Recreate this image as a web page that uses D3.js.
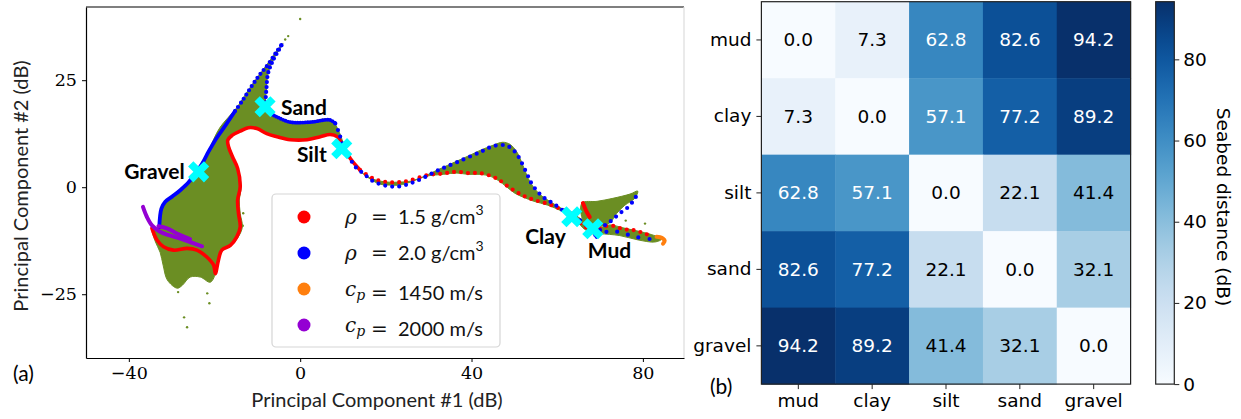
<!DOCTYPE html>
<html>
<head>
<meta charset="utf-8">
<script src="https://cdn.jsdelivr.net/npm/d3@7"></script>
<style>
body{margin:0;background:#fff;}
svg{display:block;}
</style>
</head>
<body>
<svg id="fig" width="1241" height="419"></svg>
<script>
'use strict'
// ---------- panel (a) : principal components (dB) ----------
let pcTicksX = [-40, 0, 40, 80];
let pcTicksY = [-25, 0, 25];

// outline of the green cloud of simulated seabeds
let cloudMain = [[10.3,9.1],[8.6,14.0],[7.0,15.9],[2.3,15.4],[-2.3,15.4],[-5.4,16.6],[-7.9,18.9],[-7.9,22.7],[-7.5,26.6],[-6.1,30.1],[-4.0,33.6],
  [-5.4,32.0],[-7.0,29.7],[-9.0,27.0],[-11.0,24.3],[-12.9,21.5],[-14.7,18.7],[-16.8,16.3],[-18.7,14.0],[-20.2,11.2],[-21.5,8.2],[-23.3,4.7],[-26.1,1.2],[-29.2,-1.4],[-31.5,-3.5],[-32.4,-5.4],[-33.1,-9.6],[-34.5,-9.8],
  [-33.9,-12.5],[-32.7,-15.2],[-32.0,-18.2],[-31.0,-21.7],[-28.7,-23.6],[-27.5,-22.9],[-25.7,-21.0],[-23.3,-21.0],[-21.0,-22.2],[-19.8,-20.3],
  [-19.1,-17.1],[-18.2,-14.7],[-16.1,-13.6],[-14.5,-11.7],[-13.5,-9.3],[-14.0,-6.1],[-14.2,-3.0],[-13.8,0.0],[-14.5,4.4],[-15.6,7.0],[-16.6,9.3],[-16.8,11.0],[-15.9,12.1],[-14.0,13.1],[-12.1,13.8],[-10.0,13.8],[-7.7,12.6],[-5.4,11.7],[-2.3,11.2],[1.6,11.2],[4.7,11.7],[7.0,12.4],[8.6,11.7],[10.0,9.3]];
let cloudMid = [[10.3,8.6],[12.1,5.8],[13.3,4.4],[14.9,3.0],[16.8,1.6],[18.7,0.7],[21.0,0.5],[23.3,0.5],[25.7,1.2],[28.0,2.1],[32.0,4.0],[36.6,6.1],[39.7,7.5],[42.0,8.6],[45.0,9.8],[47.3,10.5],[49.0,10.0],[50.6,8.2],[52.0,5.1],[53.2,2.1],[54.6,-0.2],[56.2,-1.9],[57.8,-3.0],[59.7,-4.2],[61.8,-5.4],[64.1,-6.5],[66.5,-8.0],[68.5,-9.3],
  [70.0,-9.4],[72.3,-8.8],[75.4,-9.5],[78.6,-10.2],[82.1,-11.1],[84.4,-12.1],[82.8,-12.8],[78.8,-12.3],[74.6,-11.3],[70.0,-10.9],
  [68.5,-11.0],[66.0,-9.5],[64.1,-7.2],[61.1,-5.6],[57.8,-4.2],[54.6,-3.3],[52.0,-2.3],[50.1,-1.4],[48.3,0.0],[46.2,1.6],[44.3,2.6],[42.0,3.0],[39.2,3.0],[36.6,3.3],[33.4,3.0],[29.6,2.6],[25.7,1.4],[23.3,1.2],[20.3,1.2],[17.0,1.9],[14.0,3.7],[11.7,6.5],[10.0,9.1]];
let cloudWedge = [[65.8,-3.7],[69.3,-3.3],[73.0,-2.6],[77.0,-1.6],[78.8,-0.9],[78.1,-2.6],[75.8,-4.2],[73.9,-6.1],[72.3,-8.3],[69.5,-9.2],[66.9,-8.8],[65.8,-7.2]];
let cloudStray = [[0,39.3],[-2.8,35.3],[-3.5,34.5],[-28.5,-24.5],[-21.2,-27.1],[-21.7,-24.8],[-27.1,-30.4],[-26.4,-32.7],[-13.3,-6.1],[-13.4,-9.0],[80.5,-8.5],[76.0,-7.8]];

// rho = 1.5 g/cm3 (red)
let rhoLowLoop = [[-34.6,-9.6],[-33.4,-12.4],[-31.9,-13.9],[-29.6,-14.7],[-26.4,-14.3],[-24.1,-14.7],[-21.8,-16.3],[-20.2,-18.2],[-19.8,-20.2],[-19.1,-17.1],[-18.3,-14.7],[-16.3,-13.6],[-14.8,-11.6],[-14.0,-9.3],[-14.4,-6.1],[-14.6,-3.0],[-14.0,0.1],[-14.6,4.4],[-15.8,7.1],[-16.7,9.4],[-16.9,11.0],[-15.9,12.1],[-14.0,13.1],[-12.1,13.9],[-10.1,13.7],[-7.8,12.5],[-5.4,11.8],[-2.3,11.1],[1.6,11.1],[4.7,11.8],[7.0,12.3],[8.6,11.8],[10.1,9.4],[11.7,6.7],[14.0,4.0]];
let rhoLowMid = [[14.0,4.0],[17.1,2.0],[20.2,1.2],[23.3,1.2],[25.7,1.6],[29.6,2.8],[33.4,3.2],[36.5,3.6],[39.3,3.3],[42.0,3.3],[45.1,2.4],[46.6,1.6],[48.6,0.1],[50.5,-1.1],[52.1,-2.0],[54.4,-2.9],[57.5,-3.8],[60.6,-5.0],[63.4,-6.3],[65.7,-8.6],[67.6,-9.8],[70.0,-9.6],[72.3,-8.9],[75.4,-9.8],[77.7,-10.0],[80.1,-10.7],[82.4,-11.6]];
let rhoLowWedge = [[66.0,-3.7],[66.5,-4.9],[66.9,-5.8],[67.6,-7.0]];

// rho = 2.0 g/cm3 (blue)
let rhoHighLeft = [[-32.9,-9.4],[-32.4,-5.0],[-31.5,-3.4],[-29.9,-2.2],[-28.0,-0.7],[-26.0,1.2],[-24.5,3.2],[-22.9,5.5],[-21.4,8.3],[-19.5,11.5],[-17.2,14.8],[-15.2,17.8]];
let rhoHighOuter = [[-15.2,17.8],[-13.3,20.5],[-11.4,23.5],[-9.5,26.2],[-7.4,28.8],[-5.6,31.5],[-4.1,33.6],[-6.3,29.7],[-7.5,26.6],[-7.9,22.7],[-8.2,18.7]];
let rhoHighInner = [[-8.2,18.7],[-7.0,17.3],[-5.4,16.4],[-2.3,15.2],[2.3,15.2],[7.0,15.7],[8.2,14.9]];
let rhoHighMid = [[8.2,14.9],[9.1,12.6],[9.8,10.3],[10.7,7.9],[12.1,5.9],[13.2,4.4],[14.8,3.2],[16.7,1.6],[18.7,0.7],[21.0,0.2],[23.3,0.2],[25.7,0.9],[28.0,1.8],[31.9,3.8],[36.5,5.8],[42.0,8.2],[45.1,9.6],[47.8,9.8],[49.4,9.0],[50.9,7.2],[52.9,3.2],[54.0,0.9],[55.5,-1.1],[57.1,-2.6],[59.1,-3.8],[61.0,-5.2],[63.4,-6.8],[65.3,-7.7],[67.6,-9.6],[69.2,-11.6]];
let rhoHighRight = [[69.2,-11.6],[72.3,-10.2],[75.8,-10.9],[78.8,-11.7],[81.6,-12.1]];
let rhoHighWedge = [[70.0,-10.0],[71.1,-8.9],[72.8,-7.7],[74.6,-6.1],[76.5,-4.7],[77.9,-3.0],[78.6,-1.9],[79.3,-1.2]];

// c_p curves
let cpLow = [[83.2,-11.6],[84.0,-11.7],[84.7,-12.0],[85.1,-12.5],[84.7,-13.2]];
let cpHigh = [[-36.7,-4.6],[-35.8,-6.9],[-34.6,-8.9],[-32.7,-10.4],[-30.7,-11.2],[-28.0,-12.0],[-25.7,-12.8],[-22.9,-13.8]];
let cpHighBranch = [[-33.1,-9.1],[-31.1,-9.6],[-28.8,-10.8],[-25.7,-12.1]];

// reference seabeds
let seabedNames = ['Mud', 'Clay', 'Silt', 'Sand', 'Gravel'];
let seabedPC1 = [68.3, 63.4, 9.7, -8.2, -23.7];
let seabedPC2 = [-9.7, -6.9, 9.0, 18.8, 3.6];

let legendSymbol = ['ρ', 'ρ', 'c', 'c'];
let legendSub = ['', '', 'p', 'p'];
let legendValue = ['1.5 g/cm', '2.0 g/cm', '1450 m/s', '2000 m/s'];
let legendSup = ['3', '3', '', ''];
let legendColor = ['#ff0000', '#0000ff', '#ff7f0e', '#9400d3'];

// ---------- panel (b) : seabed distance matrix (dB) ----------
let seabeds = ['mud', 'clay', 'silt', 'sand', 'gravel'];
let distMud    = [0.0, 7.3, 62.8, 82.6, 94.2];
let distClay   = [7.3, 0.0, 57.1, 77.2, 89.2];
let distSilt   = [62.8, 57.1, 0.0, 22.1, 41.4];
let distSand   = [82.6, 77.2, 22.1, 0.0, 32.1];
let distGravel = [94.2, 89.2, 41.4, 32.1, 0.0];
let cbTicks = [0, 20, 40, 60, 80];

let svg = d3.select('#fig');
let minus = function(d){ return d < 0 ? '\u2212' + Math.abs(d) : '' + d; };

// ================= panel (a) =================
let x = d3.scaleLinear().domain([-50, 89.6]).range([86, 684]);
let y = d3.scaleLinear().domain([-39.9, 42.1]).range([358, 7]);

svg.append('clipPath').attr('id', 'clipA')
  .append('rect').attr('x', 86).attr('y', 7).attr('width', 598).attr('height', 351);
let plot = svg.append('g').attr('clip-path', 'url(#clipA)');

let line = d3.line().x(function(d){ return x(d[0]); }).y(function(d){ return y(d[1]); });
let smooth = d3.line().x(function(d){ return x(d[0]); }).y(function(d){ return y(d[1]); }).curve(d3.curveCatmullRom);

[cloudMain, cloudMid, cloudWedge].forEach(function(poly){
  plot.append('path')
    .attr('d', line.curve(d3.curveCatmullRomClosed)(poly))
    .attr('fill', '#6b8e23')
    .attr('stroke', '#6b8e23')
    .attr('stroke-width', 1);
});
plot.selectAll('.stray')
  .data(cloudStray)
  .enter().append('circle')
  .attr('class', 'stray')
  .attr('cx', function(d){ return x(d[0]); })
  .attr('cy', function(d){ return y(d[1]); })
  .attr('r', 1.2)
  .attr('fill', '#6b8e23');

function curve(pts, color, width, gap){
  plot.append('path')
    .datum(pts)
    .attr('d', smooth)
    .attr('fill', 'none')
    .attr('stroke', color)
    .attr('stroke-width', width)
    .attr('stroke-linecap', 'round')
    .attr('stroke-linejoin', 'round')
    .attr('stroke-dasharray', gap ? '0,' + gap : null);
}
curve(rhoLowLoop, '#ff0000', 3.6, 0);
curve(rhoLowMid, '#ff0000', 4.2, 7);
curve(rhoLowWedge, '#ff0000', 4, 0);
curve(rhoHighLeft, '#0000ff', 3.8, 0);
curve(rhoHighOuter, '#0000ff', 4.2, 5);
curve(rhoHighInner, '#0000ff', 3.8, 2.5);
curve(rhoHighMid, '#0000ff', 4.2, 7);
curve(rhoHighRight, '#0000ff', 4.2, 11);
curve(rhoHighWedge, '#0000ff', 4.2, 7);
curve(cpLow, '#ff7f0e', 4, 0);
curve(cpHigh, '#9400d3', 4, 0);
curve(cpHighBranch, '#9400d3', 4, 0);

// reference seabed markers
let cross = d3.symbol().type(d3.symbolCross).size(280);
plot.selectAll('.seabed')
  .data(seabedNames)
  .enter().append('path')
  .attr('class', 'seabed')
  .attr('d', cross)
  .attr('fill', '#00ffff')
  .attr('transform', function(d, i){ return 'translate(' + x(seabedPC1[i]) + ',' + y(seabedPC2[i]) + ') rotate(45)'; });

let labelOffset = {Mud: [-5, 22, 'start'], Clay: [-6, 20, 'end'], Silt: [-15, 6, 'end'], Sand: [16, 1, 'start'], Gravel: [-14, 0, 'end']};
svg.selectAll('.seabed-label')
  .data(seabedNames)
  .enter().append('text')
  .attr('class', 'seabed-label')
  .attr('x', function(d, i){ return x(seabedPC1[i]) + labelOffset[d][0]; })
  .attr('y', function(d, i){ return y(seabedPC2[i]) + labelOffset[d][1] + 7.5; })
  .attr('text-anchor', function(d){ return labelOffset[d][2]; })
  .attr('font-family', 'Lato')
  .attr('font-weight', 'bold')
  .attr('font-size', '21px')
  .attr('fill', '#000')
  .text(function(d){ return d; });

// spines
svg.append('line').attr('x1', 86).attr('x2', 684).attr('y1', 7).attr('y2', 7).attr('stroke', '#000').attr('stroke-width', 1.2);
svg.append('line').attr('x1', 684).attr('x2', 684).attr('y1', 7).attr('y2', 358).attr('stroke', '#dcdcdc').attr('stroke-width', 1.2);

let axA = svg.append('g').attr('transform', 'translate(0,358)')
  .call(d3.axisBottom(x).tickValues(pcTicksX).tickSize(4).tickSizeOuter(0).tickPadding(5).tickFormat(minus));
let ayA = svg.append('g').attr('transform', 'translate(86,0)')
  .call(d3.axisLeft(y).tickValues(pcTicksY).tickSize(4).tickSizeOuter(0).tickPadding(5).tickFormat(minus));
[axA, ayA].forEach(function(a){
  a.select('.domain').attr('stroke', '#000').attr('stroke-width', 1.2);
  a.selectAll('.tick line').attr('stroke', '#000').attr('stroke-width', 1);
  a.selectAll('.tick text').attr('font-family', 'DejaVu Serif').attr('font-size', '17.5px').attr('fill', '#000');
});

svg.append('text')
  .attr('x', 377).attr('y', 407)
  .attr('text-anchor', 'middle')
  .attr('font-family', 'Lato').attr('font-size', '20px').attr('fill', '#222')
  .text('Principal Component #1 (dB)');
svg.append('text')
  .attr('transform', 'translate(28,186) rotate(-90)')
  .attr('text-anchor', 'middle')
  .attr('font-family', 'Lato').attr('font-size', '20px').attr('fill', '#222')
  .text('Principal Component #2 (dB)');
svg.append('text')
  .attr('x', 13).attr('y', 381)
  .attr('font-family', 'Lato').attr('font-size', '21px').attr('fill', '#000')
  .text('(a)');

// legend
let legend = svg.append('g');
legend.append('rect')
  .attr('x', 272).attr('y', 194).attr('width', 228).attr('height', 153).attr('rx', 4)
  .attr('fill', '#fff').attr('fill-opacity', 0.85)
  .attr('stroke', '#d5d5d5').attr('stroke-width', 1.2);
legendColor.forEach(function(c, i){
  let ly = 217 + i * 36;
  legend.append('circle').attr('cx', 304).attr('cy', ly).attr('r', 6.5).attr('fill', c);
  let t = legend.append('text').attr('y', ly + 7).attr('fill', '#111').attr('font-size', '20px');
  t.append('tspan').attr('x', 345).attr('font-family', 'DejaVu Serif').attr('font-style', 'italic').text(legendSymbol[i]);
  if (legendSub[i]) {
    t.append('tspan').attr('dy', 4).attr('font-family', 'DejaVu Serif').attr('font-style', 'italic').attr('font-size', '14px').text(legendSub[i]);
    t.append('tspan').attr('dy', -4).text('');
  }
  t.append('tspan').attr('x', 371).attr('font-family', 'DejaVu Serif').text('=');
  t.append('tspan').attr('x', 398).attr('font-family', 'Lato').text(legendValue[i]);
  if (legendSup[i]) {
    t.append('tspan').attr('dy', -9).attr('font-family', 'Lato').attr('font-size', '14px').text(legendSup[i]);
  }
});

// ================= panel (b) =================
let matrix = [distMud, distClay, distSilt, distSand, distGravel];
let cells = [];
matrix.forEach(function(row, i){
  row.forEach(function(v, j){ cells.push({row: seabeds[i], col: seabeds[j], value: v}); });
});
let vmax = d3.max(cells, function(d){ return d.value; });
let color = d3.scaleSequential(d3.interpolateBlues).domain([0, vmax]);
let hx = d3.scaleBand().domain(seabeds).range([761.4, 1130.6]);
let hy = d3.scaleBand().domain(seabeds).range([1.7, 384.1]);

let heat = svg.append('g');
heat.selectAll('.cell')
  .data(cells)
  .enter().append('rect')
  .attr('class', 'cell')
  .attr('x', function(d){ return hx(d.col); })
  .attr('y', function(d){ return hy(d.row); })
  .attr('width', hx.bandwidth() + 0.5)
  .attr('height', hy.bandwidth() + 0.5)
  .attr('fill', function(d){ return color(d.value); });
heat.selectAll('.val')
  .data(cells)
  .enter().append('text')
  .attr('class', 'val')
  .attr('x', function(d){ return hx(d.col) + hx.bandwidth() / 2; })
  .attr('y', function(d){ return hy(d.row) + hy.bandwidth() / 2 + 6.5; })
  .attr('text-anchor', 'middle')
  .attr('font-family', 'DejaVu Sans').attr('font-size', '18.5px')
  .attr('fill', function(d){ return d.value > vmax / 2 ? '#fff' : '#000'; })
  .text(function(d){ return d.value.toFixed(1); });
heat.append('rect')
  .attr('x', 761.4).attr('y', 1.7).attr('width', 369.2).attr('height', 382.4)
  .attr('fill', 'none').attr('stroke', '#222').attr('stroke-width', 1.2);

let axB = svg.append('g').attr('transform', 'translate(0,384.1)')
  .call(d3.axisBottom(hx).tickSize(5).tickPadding(5));
let ayB = svg.append('g').attr('transform', 'translate(761.4,0)')
  .call(d3.axisLeft(hy).tickSize(5).tickPadding(5));
[axB, ayB].forEach(function(a){
  a.select('.domain').remove();
  a.selectAll('.tick line').attr('stroke', '#222');
  a.selectAll('.tick text').attr('font-family', 'DejaVu Sans').attr('font-size', '18.5px').attr('fill', '#000');
});
svg.append('text')
  .attr('x', 710).attr('y', 394)
  .attr('font-family', 'Lato').attr('font-size', '21px').attr('fill', '#000')
  .text('(b)');

// colorbar
let cbY = d3.scaleLinear().domain([0, vmax]).range([384.1, 1.7]);
let grad = svg.append('defs').append('linearGradient')
  .attr('id', 'cbGrad').attr('x1', 0).attr('x2', 0).attr('y1', 1).attr('y2', 0);
d3.range(0, 1.0001, 0.05).forEach(function(t){
  grad.append('stop').attr('offset', t).attr('stop-color', d3.interpolateBlues(t));
});
svg.append('rect')
  .attr('x', 1155.7).attr('y', 1.7).attr('width', 18.6).attr('height', 382.4)
  .attr('fill', 'url(#cbGrad)').attr('stroke', '#222').attr('stroke-width', 1.2);
let cbAxis = svg.append('g').attr('transform', 'translate(1174.3,0)')
  .call(d3.axisRight(cbY).tickValues(cbTicks).tickSize(5).tickPadding(4));
cbAxis.select('.domain').remove();
cbAxis.selectAll('.tick line').attr('stroke', '#222');
cbAxis.selectAll('.tick text').attr('font-family', 'DejaVu Sans').attr('font-size', '18.5px').attr('fill', '#000');
svg.append('text')
  .attr('transform', 'translate(1217,207) rotate(90)')
  .attr('text-anchor', 'middle')
  .attr('font-family', 'DejaVu Sans').attr('font-size', '18.5px').attr('fill', '#000')
  .text('Seabed distance (dB)');
</script>
</body>
</html>
